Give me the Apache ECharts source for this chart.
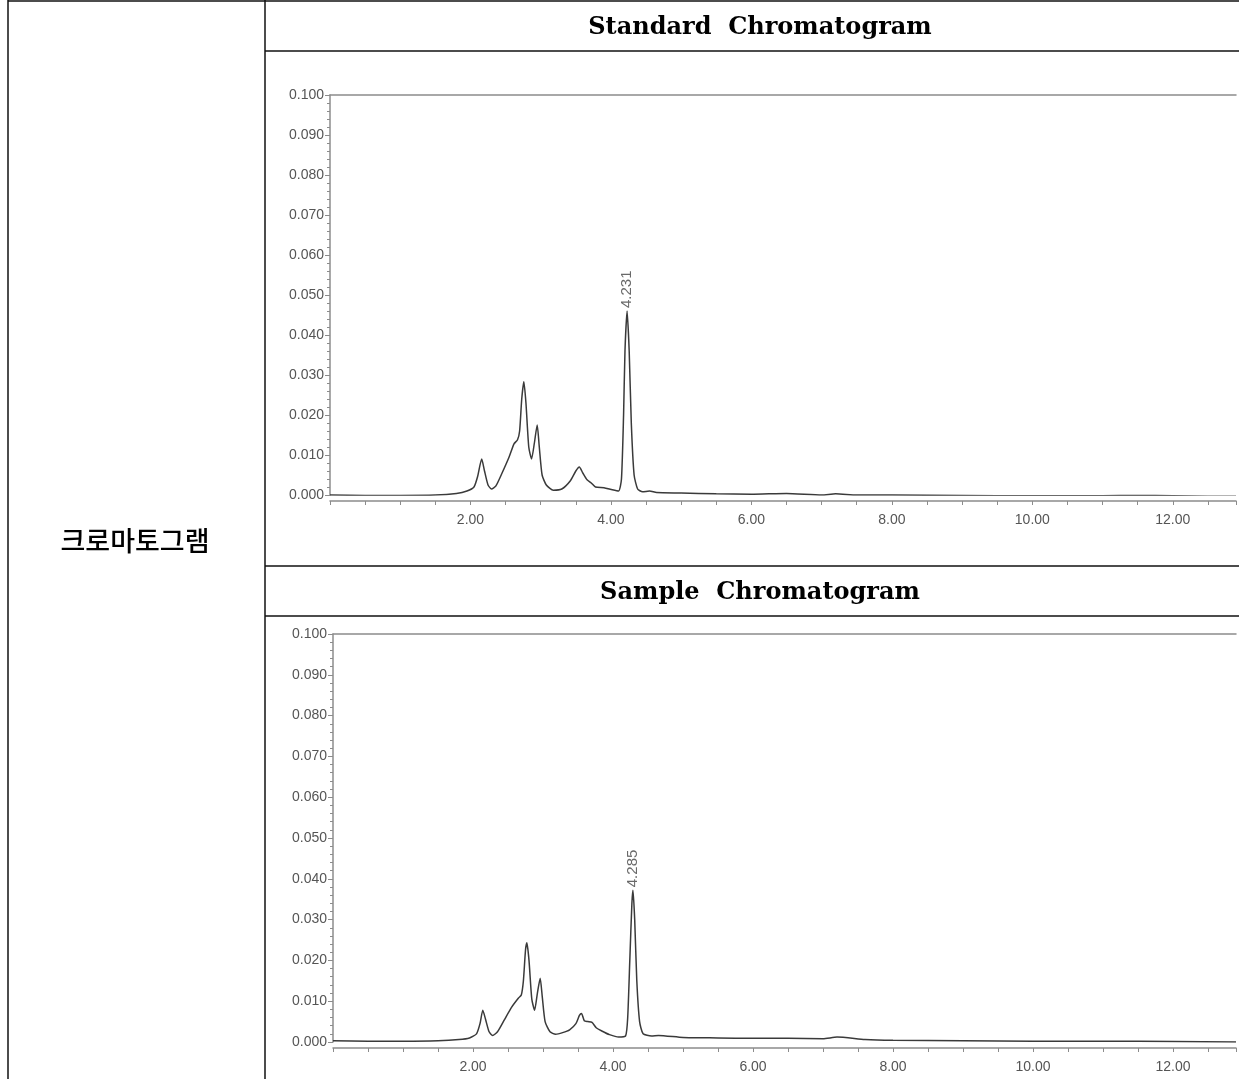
<!DOCTYPE html>
<html>
<head>
<meta charset="utf-8">
<script src="https://cdn.jsdelivr.net/npm/echarts@6/dist/echarts.min.js"></script>
<style>
  html, body { margin: 0; padding: 0; background: #fff; }
  #main { width: 1239px; height: 1079px; }
</style>
</head>
<body>
<div id="main"></div>
<script>
// 표준품 크로마토그램 [시간(min), 흡광도(AU)]
var standardTrace = [
  [0.0, 0.0000], [0.5, -0.0001], [1.0, -0.0001], [1.5, 0.0000], [1.8, 0.0004],
  [1.95, 0.0010], [2.05, 0.0020], [2.10, 0.0045], [2.16, 0.0090], [2.20, 0.0060],
  [2.25, 0.0025], [2.30, 0.0015], [2.36, 0.0022], [2.45, 0.0055], [2.55, 0.0095],
  [2.62, 0.0128], [2.67, 0.0138], [2.70, 0.0160], [2.73, 0.0240], [2.76, 0.0283],
  [2.79, 0.0230], [2.83, 0.0120], [2.87, 0.0090], [2.91, 0.0130], [2.95, 0.0175],
  [2.98, 0.0120], [3.02, 0.0050], [3.08, 0.0025], [3.18, 0.0012], [3.30, 0.0015],
  [3.42, 0.0035], [3.50, 0.0060], [3.55, 0.0070], [3.60, 0.0055], [3.66, 0.0038],
  [3.72, 0.0030], [3.78, 0.0020], [3.90, 0.0018], [4.02, 0.0013], [4.11, 0.0010],
  [4.15, 0.0040], [4.18, 0.0200], [4.20, 0.0360], [4.23, 0.0460], [4.26, 0.0360],
  [4.29, 0.0180], [4.33, 0.0050], [4.38, 0.0015], [4.45, 0.0008], [4.55, 0.0010],
  [4.65, 0.0006], [5.0, 0.0005], [5.5, 0.0003], [6.0, 0.0002], [6.5, 0.0004],
  [7.0, 0.0000], [7.2, 0.0003], [7.5, 0.0000], [8.0, 0.0000], [9.0, -0.0001],
  [10.0, -0.0002], [11.0, -0.0002], [11.5, -0.0001], [12.0, -0.0002], [12.5, -0.0003],
  [12.9, -0.0003]
];

// 시료 크로마토그램
var sampleTrace = [
  [0.0, 0.0003], [0.5, 0.0002], [1.0, 0.0002], [1.5, 0.0003], [1.8, 0.0006],
  [1.95, 0.0010], [2.05, 0.0020], [2.10, 0.0045], [2.14, 0.0078], [2.18, 0.0055],
  [2.23, 0.0025], [2.28, 0.0016], [2.35, 0.0025], [2.45, 0.0055], [2.55, 0.0085],
  [2.65, 0.0108], [2.69, 0.0115], [2.72, 0.0150], [2.75, 0.0225], [2.77, 0.0243],
  [2.80, 0.0200], [2.84, 0.0105], [2.88, 0.0078], [2.92, 0.0120], [2.96, 0.0156],
  [2.99, 0.0110], [3.03, 0.0050], [3.10, 0.0025], [3.18, 0.0019], [3.28, 0.0023],
  [3.38, 0.0030], [3.47, 0.0045], [3.52, 0.0065], [3.55, 0.0070], [3.59, 0.0052],
  [3.64, 0.0050], [3.70, 0.0048], [3.76, 0.0035], [3.84, 0.0027], [3.95, 0.0018],
  [4.08, 0.0012], [4.18, 0.0015], [4.21, 0.0060], [4.24, 0.0200], [4.27, 0.0340],
  [4.285, 0.0372], [4.31, 0.0300], [4.34, 0.0150], [4.38, 0.0050], [4.43, 0.0020],
  [4.55, 0.0015], [4.65, 0.0016], [5.0, 0.0011], [5.5, 0.0010], [6.0, 0.0009],
  [6.5, 0.0009], [7.0, 0.0008], [7.2, 0.0012], [7.6, 0.0006], [8.0, 0.0004],
  [9.0, 0.0003], [10.0, 0.0002], [11.0, 0.0002], [12.0, 0.0001], [12.9, 0.0000]
];

// 피크 머무름시간 표시 [x, y, 라벨]
var standardPeak = [[4.23, 0.0460, '4.231']];
var samplePeak = [[4.285, 0.0372, '4.285']];

var timeMin = 0, timeMax = 12.9, timeStep = 2;
var absMin = 0, absMax = 0.1, absStep = 0.01;

var myChart = echarts.init(document.getElementById('main'));

var axisGray = '#8c8c8c';
var labelGray = '#555';

function bottomAxis(gi) {
  return {
    type: 'value', gridIndex: gi, position: 'bottom', offset: 6,
    min: timeMin, max: timeMax, interval: timeStep,
    axisLine: { onZero: false, lineStyle: { color: axisGray, width: 1.5 } },
    axisTick: { lineStyle: { color: axisGray }, length: 4 },
    minorTick: { show: true, splitNumber: 4, length: 4, lineStyle: { color: axisGray } },
    splitLine: { show: false },
    axisLabel: {
      color: labelGray, fontSize: 14, fontFamily: 'Liberation Sans, Arial', margin: 12,
      formatter: function (v) { return (v > 0 && v % 2 === 0) ? v.toFixed(2) : ''; }
    }
  };
}
function topAxis(gi) {
  return {
    type: 'value', gridIndex: gi, position: 'top',
    min: timeMin, max: timeMax,
    axisLine: { onZero: false, lineStyle: { color: axisGray, width: 1.5 } },
    axisTick: { show: false }, axisLabel: { show: false }, splitLine: { show: false }
  };
}
function leftAxis(gi) {
  return {
    type: 'value', gridIndex: gi,
    min: absMin, max: absMax, interval: absStep,
    axisLine: { show: true, onZero: false, lineStyle: { color: axisGray, width: 1.5 } },
    axisTick: { show: true, length: 5, lineStyle: { color: axisGray } },
    minorTick: { show: true, splitNumber: 5, length: 3, lineStyle: { color: axisGray } },
    splitLine: { show: false },
    axisLabel: {
      color: labelGray, fontSize: 14, fontFamily: 'Liberation Sans, Arial', margin: 6,
      formatter: function (v) { return v.toFixed(3); }
    }
  };
}
function traceSeries(data, idx) {
  return {
    type: 'line', xAxisIndex: idx * 2, yAxisIndex: idx,
    data: data, symbol: 'none', smooth: 0.2,
    lineStyle: { color: '#3a3a3a', width: 1.5 }
  };
}
function peakSeries(data, idx) {
  return {
    type: 'scatter', xAxisIndex: idx * 2, yAxisIndex: idx,
    data: data, symbolSize: 2, itemStyle: { color: 'rgba(0,0,0,0)' },
    label: {
      show: true, position: 'top', distance: 2, rotate: 90,
      align: 'left', verticalAlign: 'middle',
      color: '#444', fontSize: 15, fontFamily: 'Liberation Sans, Arial',
      formatter: function (p) { return p.data[2]; }
    }
  };
}

var lineStyle = { stroke: '#111', lineWidth: 1.5 };
function tableLine(x1, y1, x2, y2) {
  return { type: 'line', shape: { x1: x1, y1: y1, x2: x2, y2: y2 }, style: lineStyle, silent: true };
}

var option = {
  animation: false,
  backgroundColor: '#fff',
  grid: [
    { left: 330, top: 95, right: 0, height: 400 },
    { left: 333, top: 634, right: 0, height: 408 }
  ],
  xAxis: [bottomAxis(0), topAxis(0), bottomAxis(1), topAxis(1)],
  yAxis: [leftAxis(0), leftAxis(1)],
  series: [
    traceSeries(standardTrace, 0), peakSeries(standardPeak, 0),
    traceSeries(sampleTrace, 1), peakSeries(samplePeak, 1)
  ],
  graphic: [
    tableLine(8, 1, 1239, 1),
    tableLine(8, 0, 8, 1079),
    tableLine(265, 0, 265, 1079),
    tableLine(265, 51, 1239, 51),
    tableLine(265, 566, 1239, 566),
    tableLine(265, 616, 1239, 616),
    {
      type: 'text', x: 760, y: 28,
      style: { text: 'Standard  Chromatogram', font: 'bold 24px "DejaVu Serif", serif',
               fill: '#000', align: 'center', verticalAlign: 'middle' }
    },
    {
      type: 'text', x: 760, y: 593,
      style: { text: 'Sample  Chromatogram', font: 'bold 24px "DejaVu Serif", serif',
               fill: '#000', align: 'center', verticalAlign: 'middle' }
    },
    {
      type: 'text', x: 135, y: 541,
      style: { text: '크로마토그램', font: '500 27px "Noto Sans CJK KR", sans-serif',
               fill: '#000', align: 'center', verticalAlign: 'middle' }
    }
  ]
};

myChart.setOption(option);
</script>
</body>
</html>
